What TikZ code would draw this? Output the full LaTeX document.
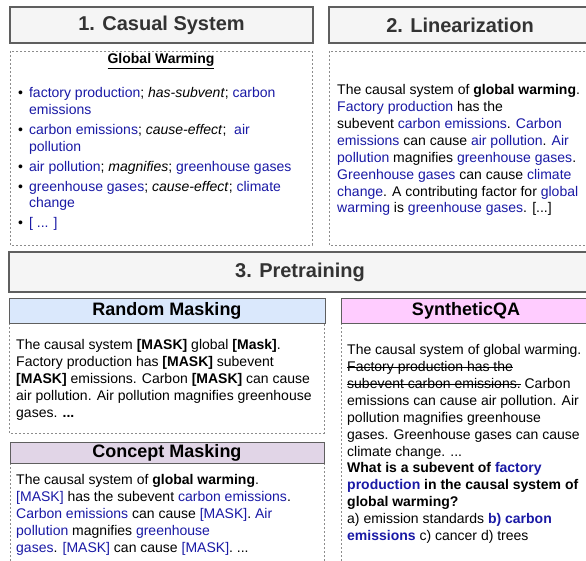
\documentclass[tikz,border=0pt]{standalone}
\usepackage{fontspec}
\setmainfont{Liberation Sans}
\usetikzlibrary{positioning}
\definecolor{conceptblue}{RGB}{25,25,165}
\definecolor{headgray}{RGB}{245,245,245}
\definecolor{edgegray}{RGB}{95,95,95}
\definecolor{randomblue}{RGB}{218,232,252}
\definecolor{conceptpurple}{RGB}{225,213,231}
\definecolor{qapink}{RGB}{255,204,255}
\newcommand{\concept}[1]{\textcolor{conceptblue}{#1}}
\newsavebox{\strikebox}
\newcommand{\strike}[1]{\sbox{\strikebox}{#1}\rlap{\rule[3.6pt]{\wd\strikebox}{0.7pt}}\usebox{\strikebox}}
\tikzset{
stagehead/.style={draw=edgegray, fill=headgray, line width=1.2pt, inner sep=0pt, % grey step titles
  font=\fontsize{20}{24}\selectfont\bfseries, text=black!80},
taskhead/.style={draw=edgegray, line width=1pt, inner sep=0pt, % coloured pretraining titles
  font=\fontsize{18}{21}\selectfont\bfseries},
panel/.style={draw=black!45, dash pattern=on 2pt off 2pt, line width=0.8pt},
bodytext/.style={anchor=north west, inner sep=0pt, align=left,
  font=\fontsize{14}{16.9}\selectfont},
}

\begin{document}
\begin{tikzpicture}[x=1pt,y=-1pt]
\useasboundingbox (0,0) rectangle (586,561);
\clip (0,0) rectangle (586,561);

% step titles
\node[stagehead, minimum width=303pt, minimum height=36pt] (casualhead) at (161.5,25) {1. Casual System};
\node[stagehead, minimum width=262pt, minimum height=36pt] (linhead) at (460,25) {2. Linearization};
\node[stagehead, minimum width=582pt, minimum height=40pt] (pretrainhead) at (300,272) {3. Pretraining};

% dotted panels
\draw[panel] (10,51) rectangle (312,245);
\draw[panel] (329,51) rectangle (591,245);
\draw[panel] (9,323) rectangle (324,433);
\draw[panel] (10,463) rectangle (324,575);
\draw[panel] (341,323) rectangle (591,575);

% 1. causal system
\node[font=\fontsize{14}{16.9}\selectfont\bfseries, inner sep=0pt] (casualtitle) at (161,61) {\underline{Global Warming}};
\node[bodytext, font=\fontsize{14}{16.7}\selectfont] (casuallist) at (18,86) {%
\begin{tabular}{@{}l@{\hspace{6pt}}l@{}}
\textbullet & \concept{factory production}; \emph{has-subvent}; \concept{carbon}\\
 & \concept{emissions}\\[3.3pt]
\textbullet & \concept{carbon emissions}; \emph{cause-effect};\ \ \concept{air}\\
 & \concept{pollution}\\[3.3pt]
\textbullet & \concept{air pollution}; \emph{magnifies}; \concept{greenhouse gases}\\[3.3pt]
\textbullet & \concept{greenhouse gases}; \emph{cause-effect}; \concept{climate}\\
 & \concept{change}\\[3.3pt]
\textbullet & \concept{[ ... ]}
\end{tabular}};

% 2. linearization
\node[bodytext] (lintext) at (337,84.3) {%
The causal system of \textbf{global warming}.\\
\concept{Factory production} has the\\
subevent \concept{carbon emissions}. \concept{Carbon}\\
\concept{emissions} can cause \concept{air pollution}. \concept{Air}\\
\concept{pollution} magnifies \concept{greenhouse gases}.\\
\concept{Greenhouse gases} can cause \concept{climate}\\
\concept{change}. A contributing factor for \concept{global}\\
\concept{warming} is \concept{greenhouse gases}. [...]};

% 3. pretraining
\node[taskhead, fill=randomblue, minimum width=316pt, minimum height=25pt] (randomhead) at (167,310.5) {Random Masking};
\node[taskhead, fill=qapink, minimum width=250pt, minimum height=25pt] (qahead) at (466,310.5) {SyntheticQA};
\node[taskhead, fill=conceptpurple, minimum width=314pt, minimum height=21pt] (concepthead) at (167,452.5) {Concept Masking};

\node[bodytext] (randomtext) at (16,339.3) {%
The causal system \textbf{[MASK]} global \textbf{[Mask]}.\\
Factory production has \textbf{[MASK]} subevent\\
\textbf{[MASK]} emissions. Carbon \textbf{[MASK]} can cause\\
air pollution. Air pollution magnifies greenhouse\\
gases. \textbf{...}};

\node[bodytext] (concepttext) at (16,474.3) {%
The causal system of \textbf{global warming}.\\
\concept{[MASK]} has the subevent \concept{carbon emissions}.\\
\concept{Carbon emissions} can cause \concept{[MASK]}. \concept{Air}\\
\concept{pollution} magnifies \concept{greenhouse}\\
\concept{gases}. \concept{[MASK]} can cause \concept{[MASK]}. ...};

\node[bodytext] (qatext) at (347,344.3) {%
The causal system of global warming.\\
\strike{Factory production has the}\\
\strike{subevent carbon emissions.} Carbon\\
emissions can cause air pollution. Air\\
pollution magnifies greenhouse\\
gases. Greenhouse gases can cause\\
climate change. ...\\
\textbf{What is a subevent of \concept{factory}}\\
\textbf{\concept{production} in the causal system of}\\
\textbf{global warming?}\\
a) emission standards \textbf{\concept{b) carbon}}\\
\textbf{\concept{emissions}} c) cancer d) trees};
\end{tikzpicture}
\end{document}
